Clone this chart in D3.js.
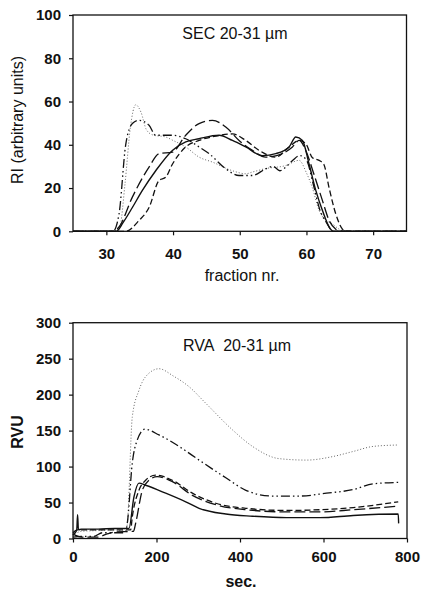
<!DOCTYPE html>
<html>
<head>
<meta charset="utf-8">
<script src="https://cdn.jsdelivr.net/npm/d3@7"></script>
<style>
body{margin:0;background:#fff;}
text{font-family:"Liberation Sans",Arial,sans-serif;fill:#111;}
.tick text{font-size:15px;font-weight:bold;}
</style>
</head>
<body>
<div id="chart"></div>
<script>
// SEC panel: [fraction nr., RI]
var secTicksX = [30,40,50,60,70];
var secTicksY = [0,20,40,60,80,100];
var secDotted = [[25,0],[31,0],[32,2],[32.8,22],[33.6,48],[34.4,58.5],[35.2,55],[36,47],[37,44.5],[38.9,43.6],[40,42],[41.9,39],[43.9,34.3],[45.9,32],[48.9,28],[50.9,26.6],[52,27.5],[53.9,29],[56.9,30.4],[58.9,32.8],[60,27],[60.9,20],[61.9,9.6],[63,5],[63.9,3.4],[64.9,1],[66,0],[75,0]];
var secDashDot = [[25,0],[31,0],[31.9,8],[32.9,40],[33.9,49.8],[34.9,51.3],[36.4,49],[37.4,44.4],[39.9,44.4],[41.9,42.8],[43.9,39],[45.4,35.9],[47.9,28.9],[49.9,25.8],[51.9,25.8],[53.9,28.9],[55,30],[56,28],[57,30],[58,33],[59,35],[60,33],[61,22],[62,10],[63,4],[64,0],[75,0]];
var secSolid = [[25,0],[31.5,0],[32.5,4],[33.9,11],[35.4,18.9],[37.4,28],[39.9,37.4],[41.9,41.3],[43.9,42.8],[46.9,44.4],[48.9,42],[50.9,39],[53.4,35],[55.4,35.9],[57.4,39],[58.4,43.6],[59.4,42],[60.4,31],[61.4,18.9],[62.4,9.6],[63.4,2],[64,0],[75,0]];
var secLongDash = [[25,0],[31,0],[31.9,2],[33.9,15.8],[36.4,29.7],[37.9,35.9],[39.9,36.6],[41.9,44.4],[43.9,49.8],[45.9,51.3],[47.9,48.2],[49.9,42],[51.9,37.4],[53.9,34.3],[56.4,35.9],[57.9,39],[58.9,42],[59.9,37.4],[61.1,26.6],[62.4,14.2],[63.4,5],[64.4,1],[65,0],[75,0]];
var secDash = [[25,0],[32.9,0],[34.9,5],[36.4,11],[37.9,23.5],[38.9,25],[39.9,31],[41.9,39],[43.9,42],[46.4,44],[48.9,45],[50.9,42],[52.9,37.4],[55.4,34.3],[57.4,39],[58.9,42],[59.9,40.5],[60.9,34],[61.9,32.8],[62.6,31],[63.4,20],[64.4,8],[65.4,1],[66,0],[75,0]];

// RVA panel: [sec., RVU]
var rvaTicksX = [0,200,400,600,800];
var rvaTicksY = [0,50,100,150,200,250,300];
var rvaDotted = [[0,3],[10,8],[20,10],[60,11],[100,12],[125,10],[130,20],[142,169],[158,206],[174,225],[206,236],[240,226],[278,211],[318,188],[382,151],[430,128],[494,111],[559,109],[623,114],[671,121],[719,128],[779,130]];
var rvaDashDot = [[0,2],[20,3],[50,3],[70,8],[100,8],[125,8],[130,21],[142,105],[154,137],[172,152],[206,144],[254,128],[302,109],[367,84],[414,67],[478,59],[543,59],[607,63],[671,68],[719,76],[779,78]];
var rvaDash1 = [[0,8],[10,12],[30,12],[100,12],[138,12],[142,30],[158,67],[174,81],[198,88],[238,81],[286,63],[342,49],[414,42],[511,39],[591,40],[671,43],[779,51]];
var rvaDash2 = [[0,6],[20,2],[60,2],[80,6],[100,9],[145,10],[150,21],[166,67],[182,81],[202,86],[238,79],[286,60],[342,47],[414,40],[511,37],[591,37],[671,40],[779,45]];
var rvaSolid = [[0,5],[5,8],[9,12],[11,33],[13,12],[20,13],[60,13],[100,14],[130,14],[134,14],[146,58],[158,77],[174,74],[222,63],[270,51],[302,42],[366,34],[430,31],[511,29],[591,29],[671,32],[779,34],[780,21]];

var W = 422, H = 590;
var svg = d3.select("#chart").append("svg").attr("width",W).attr("height",H);

var styles = {
  solid:{dash:null,col:"#111",w:1.4},
  dotted:{dash:"1,2",col:"#666",w:1},
  dashdot:{dash:"9,3,1.5,3,1.5,3",col:"#111",w:1.3},
  longdash:{dash:"11,4",col:"#111",w:1.3},
  dash:{dash:"6,3",col:"#111",w:1.3}
};

function drawPanel(p){
  var x = d3.scaleLinear().domain(p.xdom).range([p.left,p.right]);
  var y = d3.scaleLinear().domain(p.ydom).range([p.bottom,p.top]);
  var g = svg.append("g");

  var ax = g.append("g").attr("transform","translate(0,"+p.bottom+")")
    .call(d3.axisBottom(x).tickValues(p.xticks).tickSize(4).tickSizeOuter(0).tickPadding(p.xpad));
  var ay = g.append("g").attr("transform","translate("+p.left+",0)")
    .call(d3.axisLeft(y).tickValues(p.yticks).tickSize(4).tickSizeOuter(0).tickPadding(8));
  ax.select(".domain").remove();
  ay.select(".domain").remove();
  g.selectAll(".tick line").attr("stroke","#111").attr("stroke-width",1.2);

  var line = d3.line().x(function(d){return x(d[0]);}).y(function(d){return y(d[1]);})
    .curve(d3.curveMonotoneX);
  p.series.forEach(function(s){
    var st = styles[s.style];
    g.append("path").datum(s.data)
      .attr("d",line)
      .attr("fill","none")
      .attr("stroke",st.col)
      .attr("stroke-width",st.w)
      .attr("stroke-dasharray",st.dash)
      .attr("stroke-linejoin","round");
  });

  g.append("rect").attr("x",p.left).attr("y",p.top)
    .attr("width",p.right-p.left).attr("height",p.bottom-p.top)
    .attr("fill","none").attr("stroke","#111").attr("stroke-width",1.3);

  g.append("text").attr("x",p.titleX).attr("y",p.titleY)
    .attr("text-anchor","middle").style("font-size","16px").style("white-space","pre").text(p.title);
  g.append("text").attr("x",p.xlabX).attr("y",p.xlabY)
    .attr("text-anchor","middle").style("font-size","16px").style("font-weight",p.labW).text(p.xlab);
  g.append("text").attr("transform","translate("+p.ylabX+","+p.ylabY+") rotate(-90)")
    .attr("text-anchor","middle").style("font-size","16px").style("font-weight",p.labW).text(p.ylab);
}

drawPanel({
  xdom:[25,75], ydom:[0,100], left:73, right:406.5, top:15, bottom:231.3,
  xticks:secTicksX, yticks:secTicksY, xpad:13,
  series:[
    {data:secDotted,style:"dotted"},
    {data:secDashDot,style:"dashdot"},
    {data:secSolid,style:"solid"},
    {data:secLongDash,style:"longdash"},
    {data:secDash,style:"dash"}
  ],
  title:"SEC 20-31 \u00b5m", titleX:235, titleY:39,
  xlab:"fraction nr.", xlabX:242, xlabY:281, ylab:"RI (arbitrary units)", ylabX:23, ylabY:120, labW:"normal"
});

drawPanel({
  xdom:[0,800], ydom:[0,300], left:73, right:407, top:322.7, bottom:538.5,
  xticks:rvaTicksX, yticks:rvaTicksY, xpad:8.5,
  series:[
    {data:rvaDotted,style:"dotted"},
    {data:rvaDashDot,style:"dashdot"},
    {data:rvaDash1,style:"dash"},
    {data:rvaDash2,style:"longdash"},
    {data:rvaSolid,style:"solid"}
  ],
  title:"RVA\u00a0\u00a020-31 \u00b5m", titleX:237, titleY:351,
  xlab:"sec.", xlabX:241, xlabY:587, ylab:"RVU", ylabX:23, ylabY:432, labW:"bold"
});
</script>
</body>
</html>
